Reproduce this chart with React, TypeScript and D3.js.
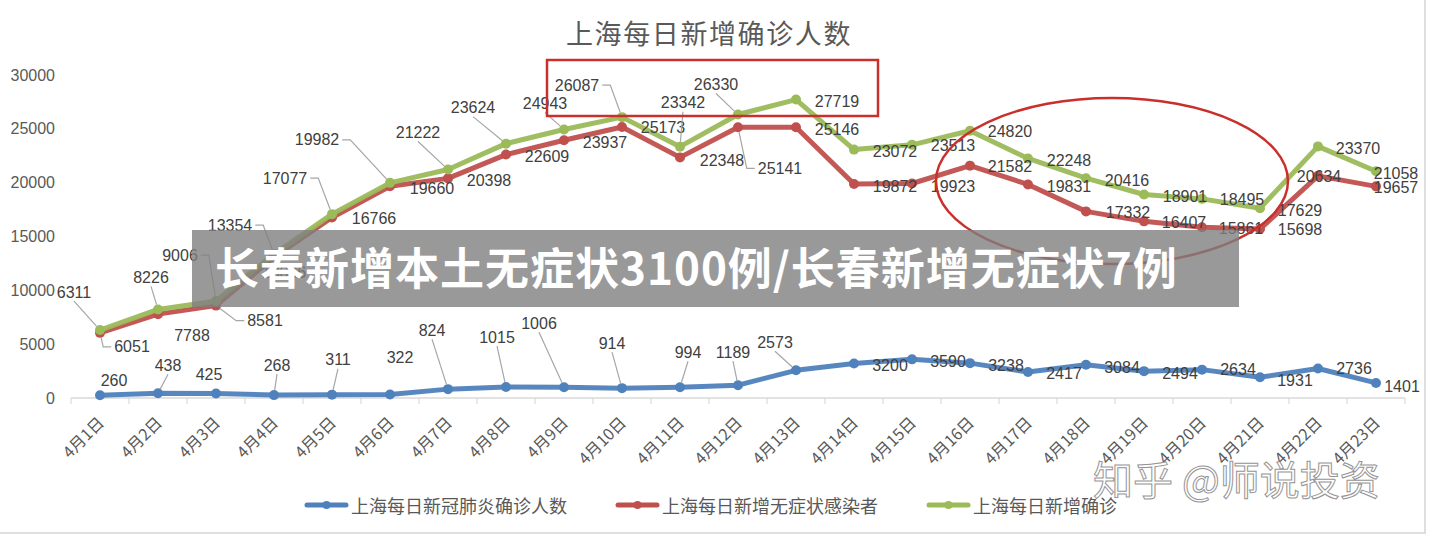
import { useEffect, useRef } from 'react';
import * as d3 from 'd3';

// 4月1日 - 4月23日 上海每日新增
const dates = [
  '4月1日', '4月2日', '4月3日', '4月4日', '4月5日', '4月6日', '4月7日', '4月8日',
  '4月9日', '4月10日', '4月11日', '4月12日', '4月13日', '4月14日', '4月15日', '4月16日',
  '4月17日', '4月18日', '4月19日', '4月20日', '4月21日', '4月22日', '4月23日',
];
const confirmed = [260, 438, 425, 268, 311, 322, 824, 1015, 1006, 914, 994, 1189, 2573, 3200, 3590, 3238, 2417, 3084, 2494, 2634, 1931, 2736, 1401];
const asymptomatic = [6051, 7788, 8581, 13086, 16766, 19660, 20398, 22609, 23937, 25173, 22348, 25141, 25146, 19872, 19923, 21582, 19831, 17332, 16407, 15861, 15698, 20634, 19657];
const totals = [6311, 8226, 9006, 13354, 17077, 19982, 21222, 23624, 24943, 26087, 23342, 26330, 27719, 23072, 23513, 24820, 22248, 20416, 18901, 18495, 17629, 23370, 21058];
const yTicks = [0, 5000, 10000, 15000, 20000, 25000, 30000];
const seriesNames = ['上海每日新冠肺炎确诊人数', '上海每日新增无症状感染者', '上海每日新增确诊'];
const seriesColors = ['#4f81bd', '#c0504d', '#9bbb59'];

const title = '上海每日新增确诊人数';
const banner = '长春新增本土无症状3100例/长春新增无症状7例';
const watermark = '知乎 @师说投资';

// label placement (dx, dy from the point, 1 = has leader line), as moved by hand in the original
const blueLabelPos = [
  [14, -15], [10, -28, 1], [-7, -19], [3, -30, 1], [6, -35, 1], [10, -37], [-16, -59, 1], [-9, -50, 1],
  [-25, -64, 1], [-10, -45, 1], [8, -35, 1], [-5, -33, 1], [-21, -28, 1], [36, 2], [36, 2], [36, 2],
  [36, 2], [36, 3], [36, 2], [36, 0], [35, 3], [36, 0], [26, 4],
];
const redLabelPos = [
  [32, 14, 1], [34, 21], [49, 15, 1], [10, 15], [42, 1], [42, 2], [41, 2], [41, 2],
  [41, 2], [41, 1], [42, 3], [42, 41, 1], [41, 2], [41, 2], [41, 3], [40, 1],
  [41, 2], [42, 1], [40, 1], [39, 1], [40, 1], [1, 1], [20, 1],
];
const greenLabelPos = [
  [-26, -38, 1], [-7, -32, 1], [-36, -46, 1], [-44, -29, 1], [-47, -36, 1], [-73, -43, 1], [-30, -37, 1], [-33, -36, 1],
  [-19, -26, 1], [-45, -32, 1], [3, -44, 1], [-22, -30, 1], [41, 2], [41, 2], [41, 1], [40, 1],
  [41, 2], [41, 2], [41, 2], [40, 1], [40, 2], [40, 2], [20, 2],
];

const W = 1433;
const H = 537;
const FONT = '"Liberation Sans", Arial, sans-serif';
const CJK = '"Noto Sans CJK SC", "Noto Sans", sans-serif';

// excel-like leader: short horizontal stub from the label edge, then straight to the point
function leaderPath(px: number, py: number, cx: number, cy: number, w: number) {
  const hw = w / 2 + 3;
  let pts: [number, number][];
  if (cx - px < -35) {
    const sx = cx + hw;
    pts = [[sx, cy], [sx + 8, cy]];
  } else if (cx - px > 30) {
    const sx = cx - hw;
    pts = [[sx, cy], [sx - 8, cy]];
  } else {
    const sy = cy < py ? cy + 9 : cy - 9;
    pts = [[cx, sy]];
  }
  const [lx, ly] = pts[pts.length - 1];
  const len = Math.hypot(px - lx, py - ly) || 1;
  pts.push([px - ((px - lx) / len) * 5, py - ((py - ly) / len) * 5]);
  return 'M' + pts.map(p => p.join(',')).join('L');
}

function App() {
  const svgRef = useRef<SVGSVGElement>(null);

  useEffect(() => {
    const svg = d3.select(svgRef.current);
    svg.selectAll('*').remove();

    const x = d3.scaleBand().domain(dates).range([71, 1405]);
    const y = d3.scaleLinear().domain([0, 30000]).range([398, 75]);
    const cx = (d: string) => (x(d) as number) + x.bandwidth() / 2;

    svg.append('rect').attr('width', W).attr('height', H).attr('fill', '#fff');
    svg.append('rect')
      .attr('x', -2).attr('y', -2).attr('width', 1427).attr('height', 535)
      .attr('fill', 'none').attr('stroke', '#d4d4d4').attr('stroke-width', 1.5);

    // title
    svg.append('text')
      .attr('x', 709).attr('y', 32)
      .attr('text-anchor', 'middle').attr('dominant-baseline', 'central')
      .attr('font-family', CJK).attr('font-size', 27).attr('letter-spacing', 1.6)
      .attr('fill', '#595959')
      .text(title);

    // y axis labels (no axis line in the original)
    svg.append('g').selectAll('text')
      .data(yTicks)
      .join('text')
      .attr('x', 55).attr('y', d => y(d))
      .attr('text-anchor', 'end').attr('dominant-baseline', 'central')
      .attr('font-family', FONT).attr('font-size', 16).attr('fill', '#595959')
      .text(d => d);

    // x axis
    const xg = svg.append('g').attr('transform', 'translate(0,398)');
    xg.append('line').attr('x1', 71).attr('x2', 1405).attr('stroke', '#d9d9d9').attr('stroke-width', 1.5);
    xg.selectAll('line.tick')
      .data([...dates.map(d => x(d) as number), 1405])
      .join('line')
      .attr('class', 'tick')
      .attr('x1', d => d).attr('x2', d => d).attr('y1', 0).attr('y2', 6)
      .attr('stroke', '#d9d9d9').attr('stroke-width', 1.2);
    xg.selectAll('text')
      .data(dates)
      .join('text')
      .attr('transform', d => `translate(${cx(d) + 5},${26}) rotate(-45)`)
      .attr('text-anchor', 'end')
      .attr('font-family', CJK).attr('font-size', 16).attr('fill', '#595959')
      .text(d => d);

    const series = [
      { values: confirmed, color: seriesColors[0], pos: blueLabelPos },
      { values: asymptomatic, color: seriesColors[1], pos: redLabelPos },
      { values: totals, color: seriesColors[2], pos: greenLabelPos },
    ];

    const line = d3.line<number>()
      .x((_, i) => cx(dates[i]))
      .y(v => y(v));

    series.forEach(s => {
      svg.append('path')
        .attr('d', line(s.values))
        .attr('fill', 'none').attr('stroke', s.color).attr('stroke-width', 5)
        .attr('stroke-linejoin', 'round').attr('stroke-linecap', 'round')
        .attr('opacity', 0.95);
      svg.append('g').selectAll('circle')
        .data(s.values)
        .join('circle')
        .attr('cx', (_, i) => cx(dates[i])).attr('cy', v => y(v))
        .attr('r', 5).attr('fill', s.color);
    });

    // data labels + leader lines
    series.forEach(s => {
      const g = svg.append('g');
      s.values.forEach((v, i) => {
        const px = cx(dates[i]);
        const py = y(v);
        const [dx, dy, lead] = s.pos[i];
        const lx = px + dx;
        const ly = py + dy;
        const w = String(v).length * 8.9;
        if (lead) {
          g.append('path')
            .attr('d', leaderPath(px, py, lx, ly, w))
            .attr('fill', 'none').attr('stroke', '#a6a6a6').attr('stroke-width', 1.2);
        }
        g.append('text')
          .attr('x', lx).attr('y', ly)
          .attr('text-anchor', 'middle').attr('dominant-baseline', 'central')
          .attr('font-family', FONT).attr('font-size', 16).attr('fill', '#404040')
          .text(v);
      });
    });

    // red highlight annotations
    svg.append('rect')
      .attr('x', 547).attr('y', 60).attr('width', 331).attr('height', 56)
      .attr('fill', 'none').attr('stroke', '#c9302c').attr('stroke-width', 2.5);
    svg.append('ellipse')
      .attr('cx', 1112).attr('cy', 181).attr('rx', 176).attr('ry', 83)
      .attr('fill', 'none').attr('stroke', '#c9302c').attr('stroke-width', 2.5);

    // legend
    const legendX = [305, 616, 927];
    const lg = svg.append('g').attr('transform', 'translate(0,505)');
    seriesNames.forEach((name, i) => {
      const x0 = legendX[i];
      lg.append('line')
        .attr('x1', x0 + 2).attr('x2', x0 + 41).attr('y1', 0).attr('y2', 0)
        .attr('stroke', seriesColors[i]).attr('stroke-width', 5).attr('stroke-linecap', 'round');
      lg.append('circle').attr('cx', x0 + 21.5).attr('cy', 0).attr('r', 4).attr('fill', seriesColors[i]);
      lg.append('text')
        .attr('x', x0 + 46).attr('y', 0)
        .attr('dominant-baseline', 'central')
        .attr('font-family', CJK).attr('font-size', 18).attr('fill', '#595959')
        .text(name);
    });

    // overlaid news banner
    svg.append('rect')
      .attr('x', 192).attr('y', 230).attr('width', 1047).attr('height', 77)
      .attr('fill', '#808080').attr('opacity', 0.8);
    svg.append('text')
      .attr('x', 215).attr('y', 266)
      .attr('dominant-baseline', 'central')
      .attr('font-family', CJK).attr('font-weight', 700).attr('font-size', 44)
      .attr('letter-spacing', 1)
      .attr('fill', '#fff')
      .text(banner);

    // watermark
    svg.append('text')
      .attr('x', 1093).attr('y', 478)
      .attr('dominant-baseline', 'central')
      .attr('font-family', CJK).attr('font-size', 40)
      .attr('fill', '#fff').attr('stroke', '#8a8a8a').attr('stroke-width', 1)
      .attr('opacity', 0.9)
      .text(watermark);
  }, []);

  return (
    <svg
      ref={svgRef}
      width={W}
      height={H}
      style={{ position: 'absolute', left: 0, top: 0, display: 'block' }}
    />
  );
}

export default App;
